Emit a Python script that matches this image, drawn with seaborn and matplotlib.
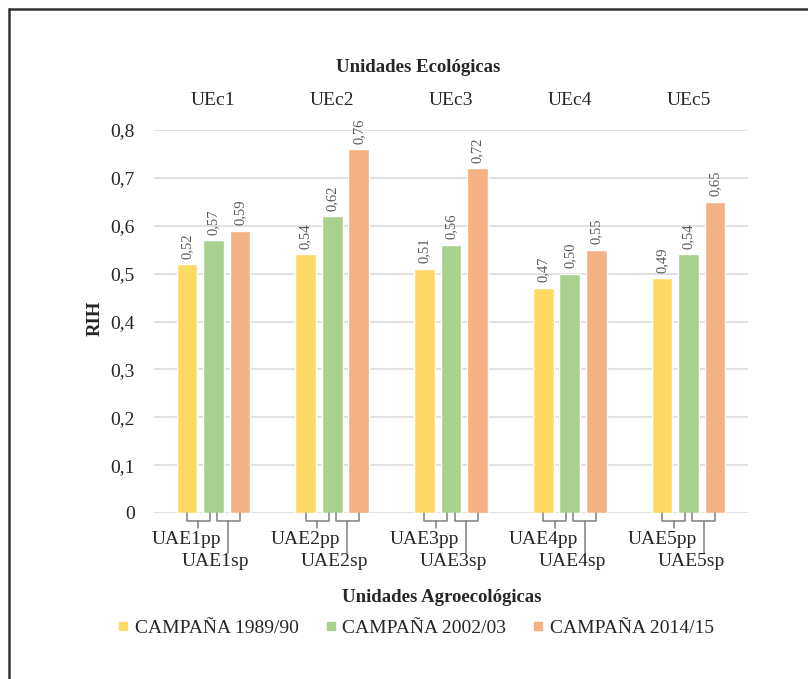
import matplotlib
matplotlib.use("Agg")
import matplotlib.pyplot as plt
from matplotlib.lines import Line2D
from matplotlib.transforms import blended_transform_factory
import pandas as pd
import seaborn as sns

# Ecological units (top axis) and agro-ecological units (bottom labels)
ecological_units = ["UEc1", "UEc2", "UEc3", "UEc4", "UEc5"]
agro_pp = ["UAE1pp", "UAE2pp", "UAE3pp", "UAE4pp", "UAE5pp"]
agro_sp = ["UAE1sp", "UAE2sp", "UAE3sp", "UAE4sp", "UAE5sp"]

campaigns = ["CAMPAÑA 1989/90", "CAMPAÑA 2002/03", "CAMPAÑA 2014/15"]
rih_1989 = [0.52, 0.54, 0.51, 0.47, 0.49]
rih_2002 = [0.57, 0.62, 0.56, 0.50, 0.54]
rih_2014 = [0.59, 0.76, 0.72, 0.55, 0.65]

y_ticks = [0, 0.1, 0.2, 0.3, 0.4, 0.5, 0.6, 0.7, 0.8]

palette = ["#FFD966", "#A9D18E", "#F4B183"]

rows = []
for camp, vals in zip(campaigns, [rih_1989, rih_2002, rih_2014]):
    for unit, v in zip(ecological_units, vals):
        rows.append({"unit": unit, "campaign": camp, "RIH": v})
df = pd.DataFrame(rows)

sns.set_theme(style="white")
plt.rcParams["font.family"] = ["Liberation Serif", "DejaVu Serif"]

fig = plt.figure(figsize=(8.08, 6.79), dpi=100)
ax = fig.add_axes([0.1906, 0.2445, 0.7351, 0.5640])

group_width = 0.67
sns.barplot(data=df, x="unit", y="RIH", hue="campaign", order=ecological_units,
            hue_order=campaigns, palette=palette, width=group_width, gap=0.22,
            saturation=1, errorbar=None, ax=ax, legend=False)

ax.set_xlim(-0.5, len(ecological_units) - 0.5)
ax.set_ylim(0, 0.8)
ax.set_yticks(y_ticks)
ax.set_yticklabels(["0" if v == 0 else f"{v:.1f}".replace(".", ",") for v in y_ticks])
ax.tick_params(axis="y", length=0, pad=14, labelsize=14, labelcolor="#262626")
ax.set_xticks([])
ax.set_xlabel("")
ax.set_ylabel("")
ax.yaxis.grid(True, color="#D9D9D9", linewidth=1.1)
ax.set_axisbelow(True)
for s in ax.spines.values():
    s.set_visible(False)

# value labels on every bar
for cont in ax.containers:
    labels = [f"{b.get_height():.2f}".replace(".", ",") for b in cont]
    ax.bar_label(cont, labels=labels, rotation=90, padding=4,
                 fontsize=10.5, color="#595959")

# ecological units along the top
for i, name in enumerate(ecological_units):
    ax.text(i, 0.8625, name, ha="center", va="center", fontsize=14,
            color="#262626", clip_on=False)

# bracketed agro-ecological labels below the axis
step = group_width / 3
px = 0.1 / 47.9
y_br = -8 * px
bracket_kw = dict(color="#7F7F7F", linewidth=1.1, clip_on=False)
for i in range(len(ecological_units)):
    a0, a1 = i - step, i - 0.03
    b0, b1 = i + 0.03, i + step
    ax.plot([a0, a0, a1, a1], [0, y_br, y_br, 0], **bracket_kw)
    ax.plot([b0, b0, b1, b1], [0, y_br, y_br, 0], **bracket_kw)
    ma, mb = (a0 + a1) / 2, (b0 + b1) / 2
    ax.plot([ma, ma], [y_br, -15 * px], **bracket_kw)
    ax.plot([mb, mb], [y_br, -40 * px], **bracket_kw)
    ax.text(i - step, -27 * px, agro_pp[i], ha="center", va="center",
            fontsize=14, color="#262626", clip_on=False)
    ax.text(i + 0.02, -49 * px, agro_sp[i], ha="center", va="center",
            fontsize=14, color="#262626", clip_on=False)

# titles
fig.text(418 / 808, 1 - 68 / 679, "Unidades Ecológicas", ha="center", va="center",
         fontsize=13.5, fontweight="bold", color="#262626")
fig.text(442 / 808, 1 - 597 / 679, "Unidades Agroecológicas", ha="center",
         va="center", fontsize=13.5, fontweight="bold", color="#262626")
fig.text(95 / 808, 1 - 318 / 679, "RIH", ha="center", va="center", rotation=90,
         fontsize=13.5, fontweight="bold", color="#262626")

# legend
handles = [Line2D([], [], marker="s", linestyle="", markersize=6,
                  markerfacecolor=c, markeredgecolor=c) for c in palette]
fig.legend(handles, campaigns, loc="center", bbox_to_anchor=(416 / 808, 1 - 628 / 679),
           ncol=3, frameon=False, fontsize=14, handlelength=0.5,
           handletextpad=0.35, columnspacing=1.4, labelcolor="#262626")

# frame lines along top and left edge
fig.add_artist(Line2D([9 / 808, 1.0], [1 - 9 / 679, 1 - 9 / 679],
                      transform=fig.transFigure, color="#333333", linewidth=1.8))
fig.add_artist(Line2D([9 / 808, 9 / 808], [0, 1 - 9 / 679],
                      transform=fig.transFigure, color="#333333", linewidth=1.8))

fig.savefig("out.png", dpi=100, facecolor="white")
